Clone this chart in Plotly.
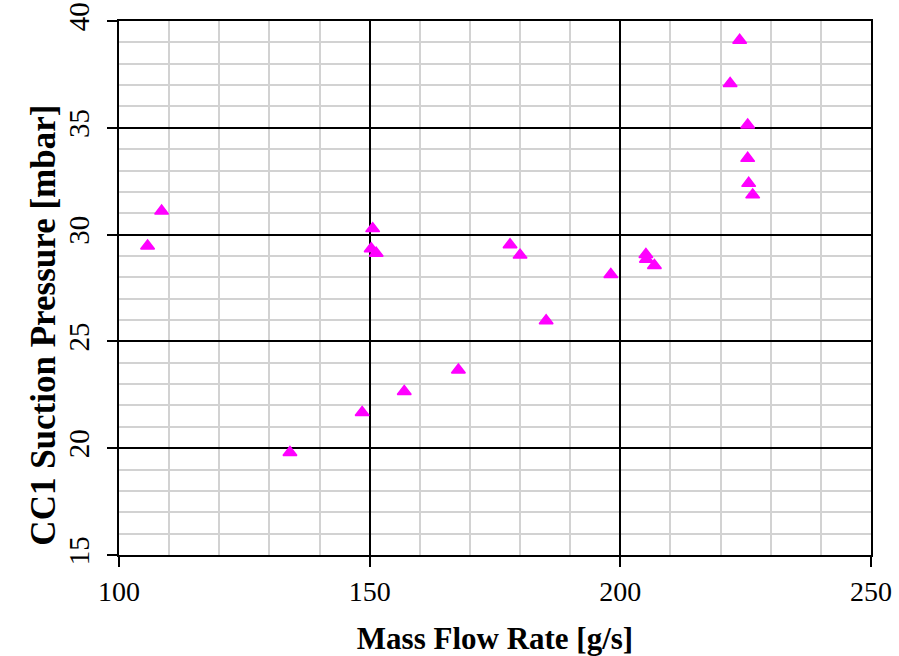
import plotly.graph_objects as go

mass_flow = [105.7, 108.5, 134.1, 148.5, 150.6, 150.3, 151.3, 156.9, 167.7,
             178.0, 180.0, 185.2, 198.1, 205.1, 205.2, 206.8,
             223.8, 221.9, 225.4, 225.4, 225.6, 226.4]
suction_pressure = [29.47, 31.1, 19.8, 21.67, 30.28, 29.34, 29.13, 22.66, 23.66,
                    29.53, 29.04, 25.97, 28.13, 29.07, 28.85, 28.55,
                    39.1, 37.07, 35.13, 33.57, 32.4, 31.86]

x_ticks = [100, 150, 200, 250]
y_ticks = [15, 20, 25, 30, 35, 40]

fig = go.Figure()
fig.add_trace(go.Scatter(
    x=mass_flow, y=suction_pressure, mode="markers",
    marker=dict(symbol="triangle-up", size=12, color="#FF00FF",
                line=dict(color="#FF00FF", width=1.5)),
    showlegend=False, cliponaxis=False,
))

font_family = "Liberation Serif"
fig.update_layout(
    width=899, height=656,
    margin=dict(l=119, r=28, t=21, b=101),
    paper_bgcolor="white", plot_bgcolor="white",
    font=dict(family=font_family, color="black"),
    xaxis=dict(
        range=[100, 250], tickvals=x_ticks, ticks="outside", ticklen=10,
        tickwidth=1.5, tickcolor="black", automargin=False,
        ticklabeloverflow="allow",
        showgrid=True, gridcolor="black", gridwidth=1.5,
        minor=dict(dtick=10, tick0=100, showgrid=True, gridcolor="#d2d2d2",
                   gridwidth=2, ticks=""),
        showline=True, linecolor="black", linewidth=2, mirror=True,
        zeroline=False, tickfont=dict(size=28, family=font_family),
        title=dict(text="<b>Mass Flow Rate [g/s]</b>", standoff=22,
                   font=dict(size=31, family=font_family)),
    ),
    yaxis=dict(
        range=[15, 40], tickvals=y_ticks, ticks="outside", ticklen=10,
        tickwidth=1.5, tickcolor="black", tickangle=-90, automargin=False,
        ticklabelstandoff=6, ticklabeloverflow="allow",
        showgrid=True, gridcolor="black", gridwidth=1.5,
        minor=dict(dtick=1, tick0=15, showgrid=True, gridcolor="#d2d2d2",
                   gridwidth=2, ticks=""),
        showline=True, linecolor="black", linewidth=2, mirror=True,
        zeroline=False, tickfont=dict(size=29, family=font_family),
    ),
    annotations=[dict(
        text="<b>CC1 Suction Pressure [mbar]</b>", textangle=-90,
        xref="paper", yref="paper", x=-0.1, y=0.431,
        xanchor="center", yanchor="middle", showarrow=False,
        font=dict(size=35, family=font_family, color="black"),
    )],
)

# remove the browser's default 8px body margin so the figure fills the window
fig.write_html("out.html",
               config={"displayModeBar": False},
               post_script="document.body.style.margin='0';document.body.style.overflow='hidden';")
